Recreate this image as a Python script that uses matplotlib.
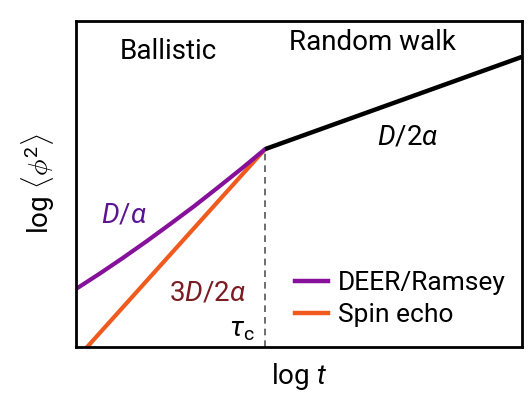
import matplotlib
matplotlib.use("Agg")
import matplotlib.pyplot as plt
from matplotlib.lines import Line2D

plt.rcParams['font.family'] = ['Roboto', 'DejaVu Sans']
plt.rcParams['mathtext.fontset'] = 'custom'
plt.rcParams['mathtext.rm'] = 'Roboto'
plt.rcParams['mathtext.it'] = 'Roboto:italic'

# data (log t, log <phi^2>) in arbitrary units
deer_x = [0.0, 0.53, 1.06, 1.59, 2.12, 2.65, 3.18, 3.71, 4.24]
deer_y = [1.78, 2.25, 2.74, 3.25, 3.78, 4.32, 4.89, 5.47, 6.07]
echo_x = [0.0, 4.24]
echo_y = [-0.38, 6.07]
walk_x = [4.24, 10.0]
walk_y = [6.07, 8.90]
tau_c = 4.24
legend_labels = ['DEER/Ramsey', 'Spin echo']

purple = '#86109a'
orange = '#f05a1e'

fig = plt.figure(figsize=(5.28, 3.97), dpi=100)
ax = fig.add_axes([76/528, 1-347/397, 446/528, 326/397])
ax.set_xlim(0, 10)
ax.set_ylim(0, 10)

ax.plot(echo_x, echo_y, color=orange, lw=3.0, solid_capstyle='butt')
ax.plot(deer_x, deer_y, color=purple, lw=3.0, solid_capstyle='round')
ax.plot(walk_x, walk_y, color='black', lw=3.2, solid_capstyle='butt')
ax.plot([tau_c, tau_c], [0, walk_y[0]], color='#555555', lw=1.2, ls=(0, (4, 3)))

for s in ax.spines.values():
    s.set_linewidth(2.0)
ax.set_xticks([])
ax.set_yticks([])

fs = 20
ax.text(2.06, 9.05, 'Ballistic', fontsize=fs, ha='center', va='center')
ax.text(6.64, 9.33, 'Random walk', fontsize=fs, ha='center', va='center')
ax.text(7.44, 6.44, r'$D/2\alpha$', fontsize=fs, ha='center', va='center')
ax.text(1.08, 4.05, r'$D/\alpha$', fontsize=fs, ha='center', va='center', color='#5b1590')
ax.text(2.94, 1.66, r'$3D/2\alpha$', fontsize=fs, ha='center', va='center', color='#7a1c22')
ax.text(3.72, 0.55, r'$\tau_{\mathrm{c}}$', fontsize=fs, ha='center', va='center')

handles = [Line2D([], [], color=purple, lw=3.2), Line2D([], [], color=orange, lw=3.2)]
ax.legend(handles, legend_labels, loc='center left', frameon=False,
          fontsize=19, handlelength=1.25, handletextpad=0.38, labelspacing=0.3,
          borderpad=0, borderaxespad=0, bbox_to_anchor=(0.491, 0.146))

ax.set_xlabel(r'log $t$', fontsize=fs, labelpad=10)
ax.set_ylabel(r'log $\langle\phi^2\rangle$', fontsize=fs, labelpad=14)

fig.savefig('out.png', dpi=100)
